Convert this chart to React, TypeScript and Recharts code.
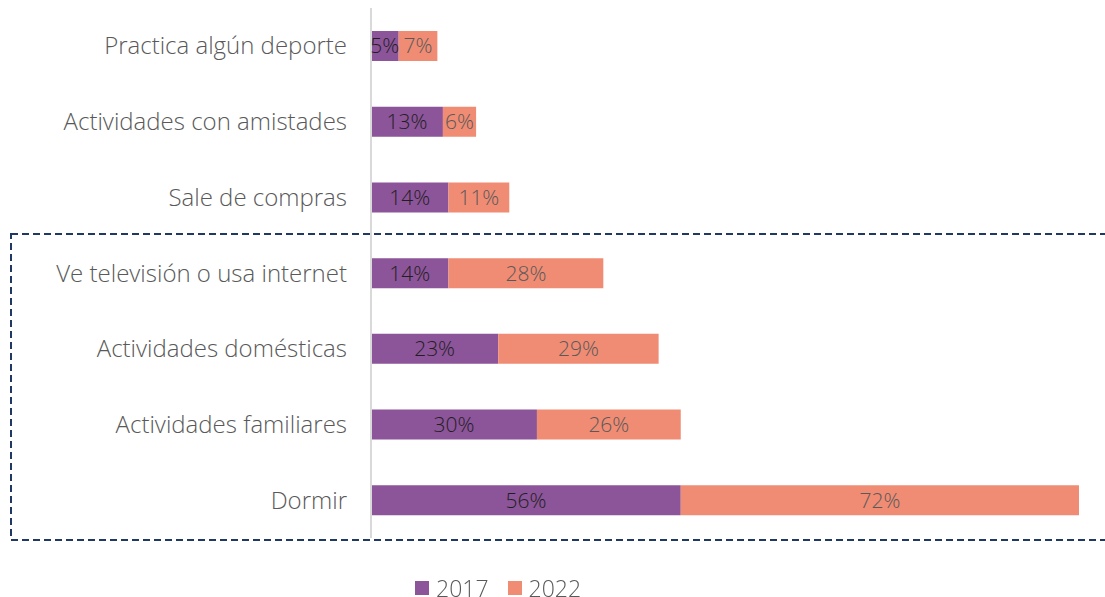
import React from "react";
import { BarChart, Bar, XAxis, YAxis, LabelList, Legend } from "recharts";

const categories = [
  "Practica algún deporte",
  "Actividades con amistades",
  "Sale de compras",
  "Ve televisión o usa internet",
  "Actividades domésticas",
  "Actividades familiares",
  "Dormir",
];
const values2017 = [5, 13, 14, 14, 23, 30, 56];
const values2022 = [7, 6, 11, 28, 29, 26, 72];
const seriesNames = ["2017", "2022"];

const data = categories.map((c, i) => ({ name: c, y2017: values2017[i], y2022: values2022[i] }));

const FONT = "'Open Sans', 'Noto Sans', sans-serif";

export default function App() {
  return (
    <div style={{ position: "fixed", left: 0, top: 0, width: 1105, height: 597, background: "#fff", fontFamily: FONT }}>
      <BarChart
        width={1105}
        height={597}
        data={data}
        layout="vertical"
        margin={{ top: 8, right: 26, bottom: 37, left: 0 }}
        barSize={30}
      >
        <XAxis type="number" hide domain={[0, 128]} />
        <YAxis
          type="category"
          dataKey="name"
          width={371}
          tickLine={false}
          axisLine={{ stroke: "#D9D9D9", strokeWidth: 2 }}
          tickMargin={18}
          tick={{ fill: "#595959", fontSize: 24, fontFamily: FONT, fontWeight: 300 }}
          interval={0}
        />
        <Legend
          verticalAlign="bottom"
          align="left"
          iconType="square"
          iconSize={14}
          wrapperStyle={{ left: 415, top: 575, width: 300, height: 22, bottom: "auto", lineHeight: "22px" }}
          formatter={(v: string) => (
            <span
              style={{
                display: "inline-block",
                lineHeight: "22px",
                height: 22,
                color: "#595959",
                fontSize: 23,
                fontFamily: FONT,
                fontWeight: 300,
                marginLeft: 3,
                marginRight: 9,
                verticalAlign: "middle",
              }}
            >
              {v}
            </span>
          )}
        />
        <Bar dataKey="y2017" name={seriesNames[0]} stackId="a" fill="#8C5499" isAnimationActive={false}>
          <LabelList
            dataKey="y2017"
            position="center"
            formatter={(v: any) => `${v}%`}
            style={{ fill: "#1F1F1F", fontSize: 21, fontFamily: FONT, fontWeight: 300 }}
          />
        </Bar>
        <Bar dataKey="y2022" name={seriesNames[1]} stackId="a" fill="#F08C74" isAnimationActive={false}>
          <LabelList
            dataKey="y2022"
            position="center"
            formatter={(v: any) => `${v}%`}
            style={{ fill: "#595959", fontSize: 21, fontFamily: FONT, fontWeight: 300 }}
          />
        </Bar>
      </BarChart>
      <svg
        width={1105}
        height={597}
        style={{ position: "absolute", left: 0, top: 0, pointerEvents: "none" }}
      >
        <rect x={11} y={234} width={1110} height={306} fill="none" stroke="#203864" strokeWidth={2} strokeDasharray="7 4" />
      </svg>
    </div>
  );
}
